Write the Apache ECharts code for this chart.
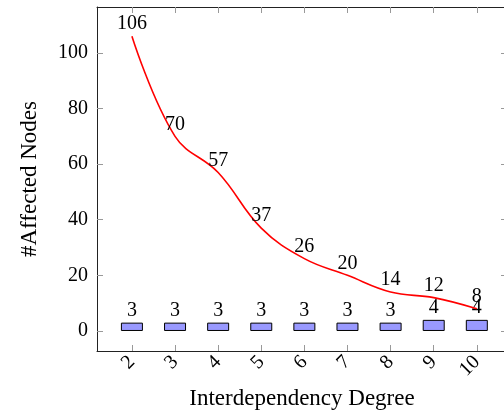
<!DOCTYPE html>
<html>
<head>
<meta charset="utf-8">
<script src="https://cdn.jsdelivr.net/npm/echarts@6/dist/echarts.min.js"></script>
<style>html,body{margin:0;padding:0;background:#fff}#c{width:504px;height:412px}</style>
</head>
<body>
<div id="c"></div>
<script>
const degrees = [2, 3, 4, 5, 6, 7, 8, 9, 10];
const affectedLine = [106, 70, 57, 37, 26, 20, 14, 12, 8];
const affectedBars = [3, 3, 3, 3, 3, 3, 3, 4, 4];
const yTicks = [0, 20, 40, 60, 80, 100];
const xLabel = 'Interdependency Degree';
const yLabel = '#Affected Nodes';

const font = 'Liberation Serif';
const chart = echarts.init(document.getElementById('c'), null, {renderer: 'canvas'});
const lineData = degrees.map((d, i) => [d, affectedLine[i]]);
const barData = degrees.map((d, i) => [d, affectedBars[i]]);

const tickStyle = {show: true, inside: true, length: 6, lineStyle: {color: '#999', width: 1}, customValues: degrees};
const yTickStyle = {show: true, inside: true, length: 6, lineStyle: {color: '#999', width: 1}, customValues: yTicks};

chart.setOption({
  animation: false,
  grid: {left: 97, right: -3, top: 7, bottom: 61, containLabel: false, outerBoundsMode: 'none'},
  xAxis: [{
    type: 'value', min: 1.19, max: 10.7, position: 'bottom',
    axisLine: {show: true, onZero: false, lineStyle: {color: '#222', width: 1}},
    axisTick: tickStyle,
    splitLine: {show: false},
    axisLabel: {customValues: degrees, rotate: 45, margin: 8, fontFamily: font, fontSize: 20, color: '#000'},
    name: xLabel, nameLocation: 'middle', nameGap: 36,
    nameTextStyle: {fontFamily: font, fontSize: 23, color: '#000'}
  }, {
    type: 'value', min: 1.19, max: 10.7, position: 'top',
    axisLine: {show: true, onZero: false, lineStyle: {color: '#222', width: 1}},
    axisTick: tickStyle, axisLabel: {show: false}, splitLine: {show: false}
  }],
  yAxis: [{
    type: 'value', min: -7.2, max: 116.5, position: 'left',
    axisLine: {show: true, onZero: false, lineStyle: {color: '#222', width: 1}},
    axisTick: yTickStyle,
    splitLine: {show: false},
    axisLabel: {customValues: yTicks, margin: 9, fontFamily: font, fontSize: 20, color: '#000'},
    name: yLabel, nameLocation: 'middle', nameGap: 56,
    nameTextStyle: {fontFamily: font, fontSize: 23, color: '#000'}
  }, {
    type: 'value', min: -7.2, max: 116.5, position: 'right',
    axisLine: {show: true, onZero: false, lineStyle: {color: '#222', width: 1}},
    axisTick: yTickStyle, axisLabel: {show: false}, splitLine: {show: false}
  }],
  series: [{
    type: 'bar', data: barData, xAxisIndex: 0, yAxisIndex: 0,
    barWidth: 22,
    itemStyle: {color: '#9999ff', borderColor: '#000', borderWidth: 1, borderRadius: 0},
    label: {show: true, position: 'top', distance: 2, fontFamily: font, fontSize: 20, color: '#000'}
  }, {
    type: 'line', data: lineData, xAxisIndex: 0, yAxisIndex: 0,
    smooth: 0.4, symbol: 'circle', symbolSize: 0, showSymbol: true,
    itemStyle: {color: '#ff0000'},
    lineStyle: {color: '#ff0000', width: 1.6},
    label: {show: true, position: 'top', distance: 2, fontFamily: font, fontSize: 20, color: '#000'},
    z: 3
  }]
});
</script>
</body>
</html>
